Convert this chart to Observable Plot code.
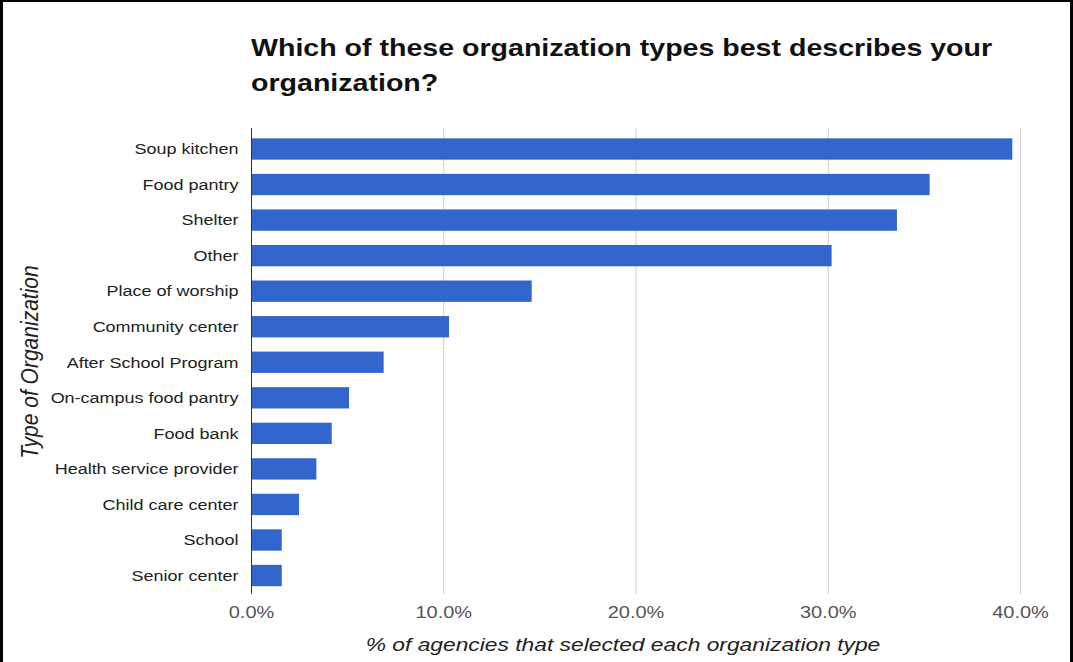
<!DOCTYPE html>
<html>
<head>
<meta charset="utf-8">
<script src="https://cdn.jsdelivr.net/npm/d3@7"></script>
<script src="https://cdn.jsdelivr.net/npm/@observablehq/plot@0.6"></script>
<style>
  html, body { margin: 0; padding: 0; background: #fff; }
  #wrap { position: relative; width: 1073px; height: 662px; overflow: hidden; background: #fff;
          font-family: "Liberation Sans", Arial, sans-serif; }
  #chart { position: absolute; left: 0; top: 0; }
  .title { position: absolute; left: 251px; top: 30px; font-size: 24px; font-weight: bold; line-height: 35px;
           color: #111; white-space: nowrap; transform: scaleX(1.19); transform-origin: 0 0; }
  .xtitle { position: absolute; left: 623px; top: 634px; font-style: italic;
            font-size: 19px; color: #222; white-space: nowrap; transform: translateX(-50%) scaleX(1.2); }
  .ytitle { position: absolute; left: 30px; top: 362px; font-style: italic; font-size: 21px; color: #222;
            white-space: nowrap; transform: translate(-50%, -50%) scaleX(1.15) rotate(-90deg); }
  .bl { position: absolute; left: 0; top: 0; width: 3px; height: 662px; background: #000; }
  .bt { position: absolute; left: 0; top: 0; width: 1073px; height: 2px; background: #000; }
  .br { position: absolute; left: 1070px; top: 0; width: 3px; height: 662px; background: #000; }
</style>
</head>
<body>
<div id="wrap">
  <div id="chart"></div>
  <div class="title">Which of these organization types best describes your<br>organization?</div>
  <div class="ytitle">Type of Organization</div>
  <div class="xtitle">% of agencies that selected each organization type</div>
  <div class="bl"></div><div class="bt"></div><div class="br"></div>
</div>
<script>
const categories = [
  "Soup kitchen", "Food pantry", "Shelter", "Other", "Place of worship",
  "Community center", "After School Program", "On-campus food pantry",
  "Food bank", "Health service provider", "Child care center", "School", "Senior center"
];
const percentValues = [39.6, 35.3, 33.6, 30.2, 14.6, 10.3, 6.9, 5.1, 4.2, 3.4, 2.5, 1.6, 1.6];
const xTickValues = [0, 10, 20, 30, 40];

const rows = categories.map((c, i) => ({type: c, pct: percentValues[i] / 100}));
const ticks = xTickValues.map(d => d / 100);

const chart = Plot.plot({
  width: 1073,
  height: 662,
  marginLeft: 251,
  marginRight: 53,
  marginTop: 128,
  marginBottom: 68,
  style: {fontFamily: "'Liberation Sans', Arial, sans-serif", background: "transparent"},
  x: {domain: [0, 0.4], ticks: ticks, tickFormat: d3.format(".1%"), label: null, axis: null},
  y: {domain: categories, paddingInner: 0.4, paddingOuter: 0.255, align: 0.57, round: false, label: null, axis: null},
  marks: [
    Plot.ruleX(ticks.slice(1), {stroke: "#cccccc", strokeWidth: 1}),
    Plot.barX(rows, {x: "pct", y: "type", fill: "#3366cc"}),
    Plot.ruleX([0], {stroke: "#333333", strokeWidth: 1}),
    Plot.axisX(ticks, {tickSize: 0, tickPadding: 12, fontSize: 16, fill: "#555", tickFormat: d3.format(".1%"), label: null}),
    Plot.axisY({tickSize: 0, tickPadding: 13, fontSize: 15, fill: "#222", label: null})
  ]
});
document.getElementById("chart").appendChild(chart);

// horizontal stretch of the tick labels, to match the reference's proportions
chart.querySelectorAll('g[aria-label="x-axis tick label"] text').forEach(t => {
  t.setAttribute("transform", (t.getAttribute("transform") || "") + " scale(1.25,1)");
});
chart.querySelectorAll('g[aria-label="y-axis tick label"] text').forEach(t => {
  t.setAttribute("transform", (t.getAttribute("transform") || "") + " scale(1.2,1)");
});
</script>
</body>
</html>
